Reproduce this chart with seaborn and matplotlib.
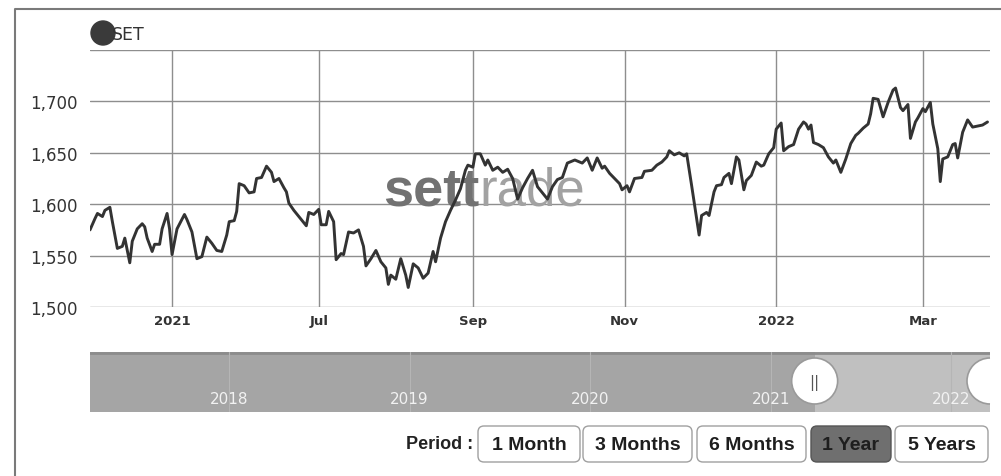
import pandas as pd
import matplotlib
matplotlib.use("Agg")
import matplotlib.pyplot as plt
import matplotlib.dates as mdates
from matplotlib.patches import FancyBboxPatch, Circle, Wedge, Arc
import seaborn as sns

# SET index, 1 year view
dates = [
    "2021-03-31", "2021-04-02", "2021-04-03", "2021-04-05", "2021-04-06", "2021-04-08",
    "2021-04-09", "2021-04-11", "2021-04-13", "2021-04-14", "2021-04-16", "2021-04-17",
    "2021-04-19", "2021-04-21", "2021-04-22", "2021-04-23", "2021-04-25", "2021-04-26",
    "2021-04-28", "2021-04-29", "2021-05-01", "2021-05-02", "2021-05-03", "2021-05-05",
    "2021-05-08", "2021-05-09", "2021-05-11", "2021-05-13", "2021-05-15", "2021-05-17",
    "2021-05-19", "2021-05-21", "2021-05-23", "2021-05-25", "2021-05-26", "2021-05-28",
    "2021-05-29", "2021-05-30", "2021-06-01", "2021-06-03", "2021-06-05", "2021-06-06",
    "2021-06-08", "2021-06-10", "2021-06-12", "2021-06-13", "2021-06-15", "2021-06-17",
    "2021-06-18", "2021-06-19", "2021-06-21", "2021-06-24", "2021-06-26", "2021-06-27",
    "2021-06-29", "2021-07-01", "2021-07-02", "2021-07-04", "2021-07-05", "2021-07-07",
    "2021-07-08", "2021-07-10", "2021-07-11", "2021-07-13", "2021-07-15", "2021-07-17",
    "2021-07-19", "2021-07-20", "2021-07-22", "2021-07-24", "2021-07-26", "2021-07-28",
    "2021-07-29", "2021-07-30", "2021-08-01", "2021-08-03", "2021-08-05", "2021-08-06",
    "2021-08-08", "2021-08-10", "2021-08-12", "2021-08-14", "2021-08-16", "2021-08-17",
    "2021-08-19", "2021-08-21", "2021-08-23", "2021-08-25", "2021-08-27", "2021-08-29",
    "2021-08-30", "2021-09-01", "2021-09-02", "2021-09-04", "2021-09-06", "2021-09-07",
    "2021-09-09", "2021-09-11", "2021-09-13", "2021-09-15", "2021-09-17", "2021-09-19",
    "2021-09-21", "2021-09-23", "2021-09-25", "2021-09-27", "2021-09-29", "2021-10-01",
    "2021-10-03", "2021-10-05", "2021-10-07", "2021-10-09", "2021-10-12", "2021-10-15",
    "2021-10-17", "2021-10-19", "2021-10-21", "2021-10-23", "2021-10-24", "2021-10-26",
    "2021-10-28", "2021-10-30", "2021-10-31", "2021-11-02", "2021-11-03", "2021-11-05",
    "2021-11-08", "2021-11-09", "2021-11-12", "2021-11-14", "2021-11-16", "2021-11-18",
    "2021-11-19", "2021-11-21", "2021-11-23", "2021-11-25", "2021-11-26", "2021-11-28",
    "2021-11-30", "2021-12-01", "2021-12-02", "2021-12-04", "2021-12-05", "2021-12-07",
    "2021-12-08", "2021-12-10", "2021-12-11", "2021-12-13", "2021-12-14", "2021-12-16",
    "2021-12-17", "2021-12-19", "2021-12-20", "2021-12-22", "2021-12-24", "2021-12-26",
    "2021-12-27", "2021-12-29", "2021-12-31", "2022-01-01", "2022-01-03", "2022-01-04",
    "2022-01-06", "2022-01-08", "2022-01-10", "2022-01-12", "2022-01-13", "2022-01-14",
    "2022-01-15", "2022-01-16", "2022-01-18", "2022-01-20", "2022-01-22", "2022-01-24",
    "2022-01-25", "2022-01-27", "2022-01-29", "2022-01-31", "2022-02-02", "2022-02-03",
    "2022-02-05", "2022-02-07", "2022-02-08", "2022-02-09", "2022-02-11", "2022-02-13",
    "2022-02-15", "2022-02-17", "2022-02-18", "2022-02-20", "2022-02-21", "2022-02-23",
    "2022-02-24", "2022-02-26", "2022-02-27", "2022-03-01", "2022-03-02", "2022-03-04",
    "2022-03-05", "2022-03-07", "2022-03-08", "2022-03-09", "2022-03-11", "2022-03-13",
    "2022-03-14", "2022-03-15", "2022-03-17", "2022-03-19", "2022-03-21", "2022-03-23",
    "2022-03-25", "2022-03-27",
]
set_index = [
    1575, 1586, 1591, 1588, 1594, 1597,
    1583, 1557, 1559, 1567, 1543, 1564,
    1576, 1581, 1578, 1567, 1554, 1561,
    1561, 1576, 1591, 1576, 1551, 1576,
    1590, 1585, 1573, 1547, 1549, 1568,
    1562, 1555, 1554, 1570, 1583, 1584,
    1593, 1620, 1618, 1611, 1612, 1625,
    1626, 1637, 1631, 1622, 1625, 1616,
    1612, 1601, 1594, 1585, 1579, 1592,
    1590, 1595, 1580, 1580, 1593, 1583,
    1546, 1552, 1551, 1573, 1572, 1575,
    1559, 1540, 1547, 1555, 1544, 1538,
    1522, 1531, 1527, 1547, 1531, 1519,
    1542, 1538, 1528, 1533, 1554, 1544,
    1567, 1583, 1594, 1604, 1615, 1633,
    1638, 1636, 1649, 1649, 1638, 1643,
    1633, 1636, 1631, 1634, 1625, 1605,
    1616, 1625, 1633, 1617, 1611, 1605,
    1617, 1624, 1626, 1640, 1643, 1640,
    1645, 1633, 1645, 1635, 1637, 1630,
    1625, 1620, 1614, 1618, 1612, 1625,
    1626, 1632, 1633, 1638, 1641, 1646,
    1652, 1648, 1650, 1647, 1649, 1618,
    1586, 1570, 1589, 1592, 1589, 1612,
    1618, 1619, 1626, 1630, 1620, 1646,
    1643, 1614, 1623, 1628, 1641, 1637,
    1638, 1649, 1655, 1673, 1679, 1652,
    1656, 1658, 1673, 1680, 1678, 1673,
    1677, 1660, 1658, 1655, 1646, 1640,
    1643, 1631, 1644, 1659, 1667, 1669,
    1674, 1678, 1688, 1703, 1702, 1685,
    1699, 1711, 1713, 1694, 1691, 1697,
    1664, 1680, 1684, 1693, 1690, 1699,
    1678, 1654, 1622, 1644, 1646, 1658,
    1659, 1645, 1670, 1682, 1675, 1676,
    1677, 1680,
]

tick_dates = ["2021-05-03", "2021-07-01", "2021-09-01", "2021-11-01", "2022-01-01", "2022-03-01"]
tick_labels = ["2021", "Jul", "Sep", "Nov", "2022", "Mar"]
y_ticks = [1500, 1550, 1600, 1650, 1700, 1750]

nav_years = ["2018", "2019", "2020", "2021", "2022"]
periods = ["1 Month", "3 Months", "6 Months", "1 Year", "5 Years"]
active_period = "1 Year"

sns.set_style("white")
plt.rcParams["font.family"] = ["DejaVu Sans"]

df = pd.DataFrame({"date": pd.to_datetime(dates), "value": set_index})

W, H = 1001, 477
fig = plt.figure(figsize=(W / 100, H / 100), dpi=100)


def box(x0, y0, x1, y1):
    # pixel box (top-left origin) -> figure fraction
    return [x0 / W, 1 - y1 / H, (x1 - x0) / W, (y1 - y0) / H]


#%% ------- main chart
ax = fig.add_axes(box(90, 51, 990, 308))
sns.lineplot(data=df, x="date", y="value", ax=ax, color="#333333", linewidth=2.1, zorder=3)
ax.set_xlim(pd.Timestamp("2021-03-31"), pd.Timestamp("2022-03-28"))
ax.set_ylim(1500, 1750)
ax.set_yticks(y_ticks)
ax.set_yticklabels([f"{v:,}" if v < 1750 else "" for v in y_ticks], fontsize=12, color="#333333")
ax.set_xticks(pd.to_datetime(tick_dates))
ax.set_xticklabels(tick_labels, fontsize=9.5, fontweight="bold", color="#333333")
ax.tick_params(axis="y", length=0, pad=9)
ax.tick_params(axis="x", length=0, pad=5)
ax.grid(True, color="#8e8e8e", linewidth=1.0)
ax.set_axisbelow(True)
for s in ax.spines.values():
    s.set_visible(False)
ax.set_xlabel("")
ax.set_ylabel("")

# watermark
wm = ax.text(0.326, 0.40, "sett", transform=ax.transAxes, fontsize=39, fontweight="bold",
             color="#727272", family="Liberation Sans", ha="left", va="baseline", zorder=2)
ax.annotate("rade", xy=(1, 0), xycoords=wm, fontsize=38, color="#a2a2a2",
            family="Liberation Sans", ha="left", va="bottom", zorder=2)

#%% ------- navigator
nav = fig.add_axes(box(90, 353, 990, 413))
nav_start, nav_end = pd.Timestamp("2017-03-25"), pd.Timestamp("2022-03-21")
sel_start = df["date"].iloc[0]
nav.set_xlim(nav_start, nav_end)
nav.set_ylim(0, 1)
nav.axis("off")
nav.axvspan(nav_start, sel_start, color="#a5a5a5", lw=0)
nav.axvspan(sel_start, nav_end, color="#c0c0c0", lw=0)
nav.axhline(0.985, color="#8c8c8c", lw=2)
for y in nav_years:
    d = pd.Timestamp(y + "-01-01")
    nav.axvline(d, color="#b5b5b5", lw=0.8)
    nav.text(d, 0.22, y, ha="center", va="center", color="#f2f2f2", fontsize=11)

#%% ------- frame, legend, period buttons (pixel overlay)
ov = fig.add_axes([0, 0, 1, 1])
ov.set_xlim(0, W)
ov.set_ylim(H, 0)
ov.axis("off")
ov.plot([15, 15, W], [H, 10, 10], color="#7a7a7a", lw=1.5)
ov.add_patch(Circle((103, 34), 12, color="#3a3a3a"))
ov.text(112, 35, "SET", ha="left", va="center", fontsize=12.5, color="#333333")

# navigator handles at both ends of the selected range
to_px = ov.transData.inverted()
hx, hy = to_px.transform(nav.transData.transform((mdates.date2num(sel_start), 0.5)))
ov.add_patch(Circle((hx, hy - 1), 23, fc="white", ec="#9a9a9a", lw=1.2, zorder=5))
ov.text(hx, hy, "||", ha="center", va="center", fontsize=11, color="#555555", zorder=6)
# right handle is cut by the navigator edge, so only its left half shows
hx, hy = to_px.transform(nav.transData.transform((mdates.date2num(nav_end), 0.5)))
ov.add_patch(Wedge((hx, hy - 1), 23, 90, 270, fc="white", ec="none", zorder=5))
ov.add_patch(Arc((hx, hy - 1), 46, 46, theta1=90, theta2=270, color="#9a9a9a", lw=1.2, zorder=6))

ov.text(473, 445, "Period :", ha="right", va="center", fontsize=13, fontweight="bold",
        color="#222222", family="Liberation Sans")
button_x = [(478, 580), (583, 692), (697, 806), (811, 891), (895, 988)]
for label, (x0, x1) in zip(periods, button_x):
    on = label == active_period
    ov.add_patch(FancyBboxPatch((x0, 427), x1 - x0, 36, boxstyle="round,pad=0,rounding_size=6",
                                fc="#6f6f6f" if on else "white",
                                ec="#555555" if on else "#a0a0a0", lw=1))
    ov.text((x0 + x1) / 2, 446, label, ha="center", va="center", fontsize=14,
            fontweight="bold", color="#1e1e1e", family="Liberation Sans")

fig.savefig("out.png", dpi=100)
